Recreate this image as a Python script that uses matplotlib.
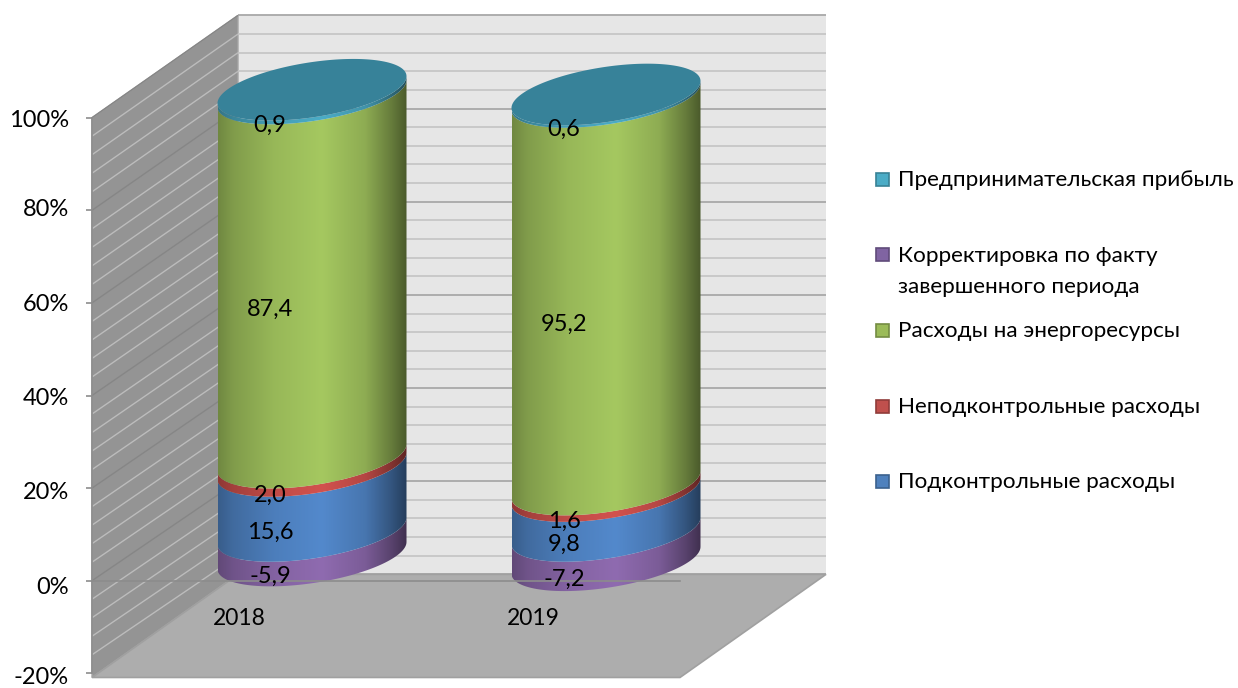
import numpy as np
import matplotlib
matplotlib.use("Agg")
import matplotlib.pyplot as plt
from matplotlib.colors import LinearSegmentedColormap, to_rgb
from matplotlib.patches import Polygon, Rectangle
from matplotlib.ticker import FuncFormatter
from matplotlib.transforms import ScaledTranslation

plt.rcParams['font.family'] = ['Lato', 'DejaVu Sans']

years = ['2018', '2019']

# stacked from zero upwards
kontrol = [15.6, 9.8]
nekontrol = [2.0, 1.6]
energo = [87.4, 95.2]
pribyl = [0.9, 0.6]
# below zero
korrekt = [-5.9, -7.2]

label_kontrol = 'Подконтрольные расходы'
label_nekontrol = 'Неподконтрольные расходы'
label_energo = 'Расходы на энергоресурсы'
label_korrekt = 'Корректировка по факту\nзавершенного периода'
label_pribyl = 'Предпринимательская прибыль'

y_ticks = [-20, 0, 20, 40, 60, 80, 100]
# the labels drift a little off their ticks in the original, px downwards
y_label_drift = [2.5, 4.5, 2.5, 1, 0, -3, 1]

# figure is 1238x688, axes fill it: one x unit = one category, one y unit = one percent
W, H = 1238, 688
PX_X = 294.0
PX_Y = 4.63
X0_PX = 239.0
Y0_PX = 580.7

DEPTH_X = 146 / PX_X
DEPTH_Y = 99.5 / PX_Y
DEPTH_SCALE = 1.006  # scale grows slightly towards the back of the box
RX = 94.5 / PX_X
SKEW = 13.5 / PX_Y
RY = 27.7 / PX_Y

fig = plt.figure(figsize=(W / 100, H / 100), dpi=100)
ax = fig.add_axes([0, 0, 1, 1])
xlim = (-X0_PX / PX_X, (W - X0_PX) / PX_X)
ylim = ((Y0_PX - H) / PX_Y, Y0_PX / PX_Y)


def back(p):
    return p * DEPTH_SCALE + DEPTH_Y


# walls
x_l, x_r = -0.5, 1.5
floor_front = -20.9
ax.add_patch(Polygon([(x_l + DEPTH_X, back(-20)), (x_r + DEPTH_X, back(-20)),
                      (x_r + DEPTH_X, back(100)), (x_l + DEPTH_X, back(100))],
                     fc='#e6e6e6', ec='none', zorder=1))
ax.add_patch(Polygon([(x_l, floor_front), (x_l + DEPTH_X, back(-20)),
                      (x_l + DEPTH_X, back(100)), (x_l, 100)],
                     fc='#949494', ec='#a6a6a6', lw=1, zorder=1))

for p in np.arange(-20, 101, 4):
    major = p % 20 == 0
    ax.plot([x_l + DEPTH_X, x_r + DEPTH_X], [back(p), back(p)],
            color='#a8a8a8' if major else '#c6c6c6', lw=1.3, zorder=1.1, solid_capstyle='butt')
    if -20 < p:
        ax.plot([x_l, x_l + DEPTH_X], [p, back(p)],
                color='#868686' if major else '#bcbcbc', lw=1.0, zorder=1.1, solid_capstyle='butt')

# floor
ax.add_patch(Polygon([(x_l, floor_front), (x_l + DEPTH_X, back(-20)),
                      (x_r + DEPTH_X, back(-20)), (x_r, floor_front)],
                     fc='#adadad', ec='#a0a0a0', lw=1.2, zorder=1.2))


def side_cmap(hex_color):
    r, g, b = to_rgb(hex_color)
    stops = [(0.0, 0.68), (0.08, 0.78), (0.3, 0.92), (0.55, 1.0), (0.78, 0.86), (0.92, 0.62), (1.0, 0.45)]
    return LinearSegmentedColormap.from_list('side', [(s, (r * f, g * f, b * f)) for s, f in stops])


def front_arc(cx, cy, n=80):
    t = np.linspace(np.pi, 0, n)
    return cx + RX * np.cos(t), cy + SKEW * np.cos(t) - RY * np.sin(t)


def draw_side(cx, low, high, color, z):
    xs, ys1 = front_arc(cx, low)
    _, ys2 = front_arc(cx, high)
    clip = Polygon(np.r_[np.c_[xs, ys1], np.c_[xs[::-1], ys2[::-1]]], fc='none', ec='none',
                   transform=ax.transData)
    ax.add_patch(clip)
    grad = np.linspace(0, 1, 256).reshape(1, -1)
    im = ax.imshow(grad, cmap=side_cmap(color), aspect='auto', interpolation='bilinear',
                   extent=(cx - RX, cx + RX, low - RY - SKEW, high + RY + SKEW), zorder=z)
    im.set_clip_path(clip)


def draw_cap(cx, cy, color, z):
    t = np.linspace(0, 2 * np.pi, 200)
    ax.add_patch(Polygon(np.c_[cx + RX * np.cos(t), cy + SKEW * np.cos(t) + RY * np.sin(t)],
                         fc=color, ec='none', zorder=z))


def value_label(cx, y, v):
    ax.text(cx - 42 / PX_X, y - 33.5 / PX_Y, str(v).replace('.', ','),
            ha='center', va='center', fontsize=17, zorder=6)


c_kontrol = '#5389cc'
c_nekontrol = '#d2524e'
c_energo = '#a5c860'
c_korrekt = '#8f6bb0'
c_pribyl = '#4bacc6'
c_top = '#378299'

for i in range(len(years)):
    total = kontrol[i] + nekontrol[i] + energo[i] + pribyl[i] - korrekt[i]
    cx = i + DEPTH_X / 2
    dy = DEPTH_Y / 2

    # the 100% stack takes shares of the sum of absolute values
    neg = korrekt[i] / total * 100 * DEPTH_SCALE
    draw_side(cx, neg + dy, dy, c_korrekt, 3.0)
    value_label(cx, neg / 2 + dy, korrekt[i])

    base = 0
    z = 3.1
    for vals, col in [(kontrol, c_kontrol), (nekontrol, c_nekontrol), (energo, c_energo), (pribyl, c_pribyl)]:
        share = vals[i] / total * 100 * DEPTH_SCALE
        draw_side(cx, base + dy, base + share + dy, col, z)
        value_label(cx, base + share / 2 + dy, vals[i])
        base += share
        z += 0.1
    draw_cap(cx, base + dy, c_top, z)

# axes themselves
ax.set_xlim(xlim)
ax.set_ylim(ylim)
ax.patch.set_visible(False)
for s in ['top', 'right']:
    ax.spines[s].set_visible(False)
ax.spines['left'].set_position(('data', x_l))
ax.spines['left'].set_bounds(-20, 100)
ax.spines['left'].set_color('#8c8c8c')
ax.spines['left'].set_linewidth(1.2)
ax.spines['bottom'].set_position(('data', 0))
ax.spines['bottom'].set_bounds(x_l, x_r)
ax.spines['bottom'].set_color('#8c8c8c')
ax.spines['bottom'].set_linewidth(1.2)
ax.spines['bottom'].set_zorder(5)
ax.set_yticks(y_ticks)
ax.yaxis.set_major_formatter(FuncFormatter(lambda v, pos: '%d%%' % v))
ax.tick_params(axis='y', length=4.3, width=1.2, color='#8c8c8c', pad=12.5, labelsize=17)
ax.set_xticks(range(len(years)), years)
ax.tick_params(axis='x', length=0, pad=20, labelsize=16.5)

for lab, d in zip(ax.get_yticklabels(), y_label_drift):
    lab.set_transform(lab.get_transform() + ScaledTranslation(0, -d / 100, fig.dpi_scale_trans))

# legend is spaced evenly whatever the line count, so it is placed by hand
legend_items = [(label_pribyl, c_pribyl), (label_korrekt, '#8064a2'), (label_energo, '#9bbb59'),
                (label_nekontrol, '#c0504d'), (label_kontrol, '#4f81bd')]
leg_top = 179.5
leg_step = 75.5
for k, (txt, col) in enumerate(legend_items):
    yy = leg_top + k * leg_step
    fig.patches.append(Rectangle((876 / W, 1 - (yy + 6.5) / H), 13 / W, 13 / H, transform=fig.transFigure,
                                 fc=col, ec=tuple(0.75 * c for c in to_rgb(col)), lw=1.2))
    for n, line in enumerate(txt.split('\n')):
        fig.text(898 / W, 1 - (yy + 7 + n * 31) / H, line, ha='left', va='baseline', fontsize=16.2)

fig.savefig('out.png', dpi=100)
